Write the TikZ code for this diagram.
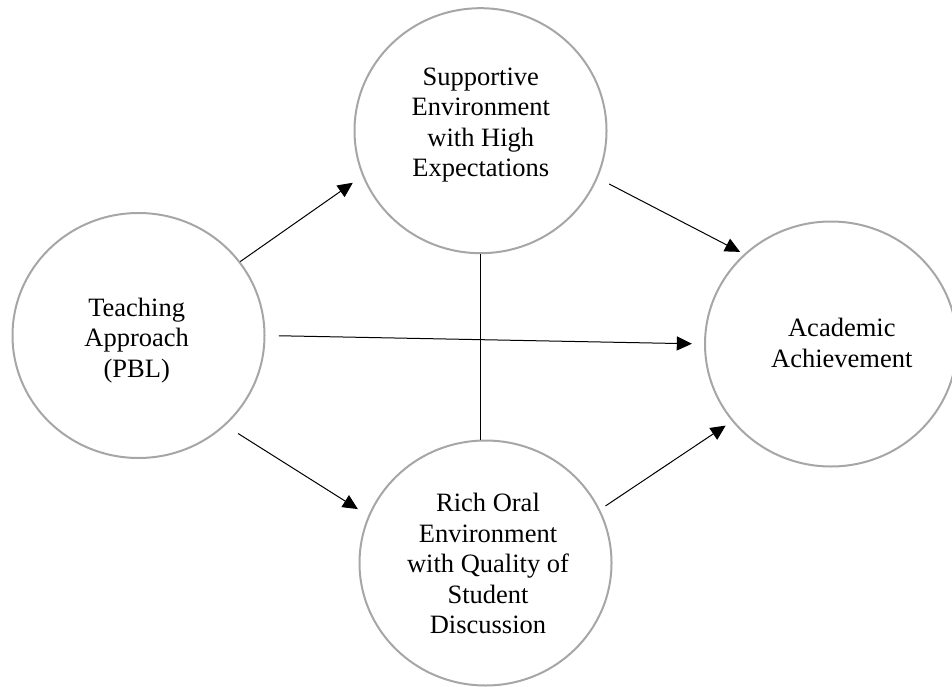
\documentclass[tikz,border=0pt]{standalone}
\usepackage{fontspec}
\setmainfont{Liberation Serif}
\usetikzlibrary{shapes.geometric,arrows.meta}
\definecolor{circgray}{HTML}{A6A6A6}
\begin{document}
\begin{tikzpicture}[x=1pt,y=-1pt,
  bubble/.style={ellipse,draw=circgray,line width=2pt,minimum width=252pt,minimum height=245pt,inner sep=0pt},
  lbl/.style={font=\fontsize{26.5pt}{30.5pt}\selectfont,align=center,inner sep=0pt,anchor=north},
  conn/.style={line width=1pt,-{Triangle[length=15pt,width=14pt]}},
  plainline/.style={line width=1pt}]
\useasboundingbox (0,0) rectangle (952,687);
\node[bubble] (T) at (480.5,130.7) {};
\node[bubble] (L) at (138.5,335.5) {};
\node[bubble] (B) at (485.5,563) {};
\node[bubble] (R) at (831,344) {};
\node[lbl] (tT) at (480.8,65) {\rule{0pt}{20pt}Supportive\\Environment\\with High\\Expectations};
\node[lbl] (tL) at (136.7,296) {\rule{0pt}{20pt}Teaching\\Approach\\(PBL)};
\node[lbl] (tB) at (488,491.7) {\rule{0pt}{20pt}Rich Oral\\Environment\\with Quality of\\Student\\Discussion};
\node[lbl] (tR) at (841.8,316.7) {\rule{0pt}{20pt}Academic\\Achievement};
\draw[conn,shorten >=11.7pt] (L.36.9) -- (T.201.1);
\draw[conn,shorten <=12.9pt,shorten >=4.5pt] (T.-22.5) -- (R.134.7);
\draw[conn,shorten <=13.3pt,shorten >=12.2pt] (L.0.7) -- (R.180);
\draw[conn,shorten <=15pt,shorten >=12.25pt] (L.-46.1) -- (B.158);
\draw[conn,shorten <=6.6pt,shorten >=7.6pt] (B.25.1) -- (R.218.9);
\draw[plainline] (T.south) -- (T.south |- B.north);
\end{tikzpicture}
\end{document}
